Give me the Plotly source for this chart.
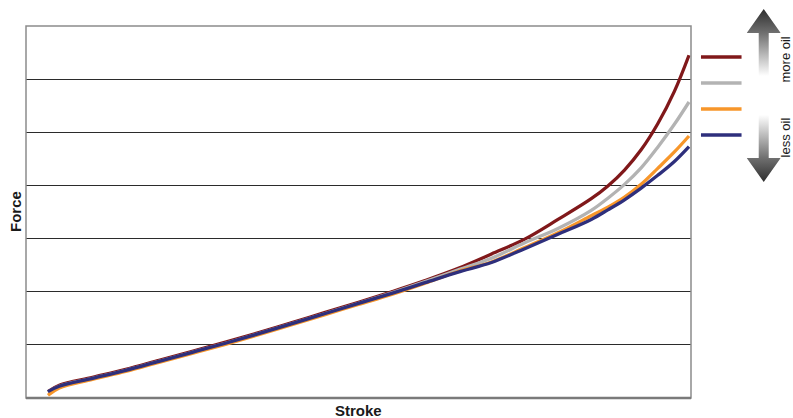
import base64
import plotly.graph_objects as go

# ---- data (force in gridline units) ----
stroke = [3.3, 5, 10, 15, 20, 25, 30, 35, 40, 45, 50, 55, 60, 65, 70, 75, 80, 85, 87.5, 90, 92.5, 95, 97.5, 99.7]
force_more_oil = [0.12, 0.24, 0.39, 0.54, 0.71, 0.88, 1.05, 1.23, 1.42, 1.61, 1.80, 2.00, 2.21, 2.44, 2.71, 2.99, 3.36, 3.75, 3.99, 4.29, 4.67, 5.16, 5.77, 6.45]
force_mid_oil = [0.11, 0.22, 0.37, 0.52, 0.69, 0.86, 1.03, 1.21, 1.40, 1.59, 1.78, 1.98, 2.19, 2.41, 2.63, 2.92, 3.19, 3.53, 3.76, 4.02, 4.33, 4.72, 5.15, 5.57]
force_less_oil = [0.05, 0.19, 0.35, 0.50, 0.67, 0.84, 1.01, 1.19, 1.38, 1.57, 1.76, 1.95, 2.16, 2.38, 2.56, 2.83, 3.11, 3.43, 3.59, 3.78, 4.02, 4.32, 4.63, 4.93]
force_least_oil = [0.12, 0.22, 0.37, 0.52, 0.69, 0.86, 1.03, 1.21, 1.40, 1.59, 1.78, 1.97, 2.17, 2.37, 2.55, 2.81, 3.08, 3.36, 3.54, 3.73, 3.95, 4.19, 4.45, 4.73]

series_names = ["more oil", "medium", "less", "least oil"]
series_values = [force_more_oil, force_mid_oil, force_less_oil, force_least_oil]
colors = ["#80181A", "#B3B3B3", "#F7962A", "#2E2F7C"]

fig = go.Figure()
for name, vals, col in zip(series_names, series_values, colors):
    fig.add_trace(go.Scatter(x=stroke, y=vals, mode="lines", name=name,
                             line=dict(color=col, width=3.3, shape="spline", smoothing=1.0),
                             showlegend=False, hoverinfo="skip"))

# legend line samples (paper coordinates)
leg_y = [0.917, 0.847, 0.777, 0.707]
for col, yy in zip(colors, leg_y):
    fig.add_shape(type="line", xref="paper", yref="paper", x0=1.015, x1=1.076, y0=yy, y1=yy,
                  line=dict(color=col, width=3.5))

# plot frame
fig.add_shape(type="rect", xref="paper", yref="paper", x0=0, x1=1, y0=0, y1=1,
              line=dict(color="#8c8c8c", width=1.5), layer="above")
fig.add_shape(type="line", xref="paper", yref="paper", x0=0, x1=1, y0=0, y1=0,
              line=dict(color="#7a7a7a", width=2.5), layer="above")


def arrow_svg(up=True):
    w, h = 34, 67
    if up:
        path = "M17,0 L34,24 L22,24 L22,67 L12,67 L12,24 L0,24 Z"
        stops = ('<stop offset="0" stop-color="#2e2e2e"/>'
                 '<stop offset="0.36" stop-color="#707070"/>'
                 '<stop offset="1" stop-color="#ffffff"/>')
    else:
        path = "M17,67 L34,43 L22,43 L22,0 L12,0 L12,43 L0,43 Z"
        stops = ('<stop offset="0" stop-color="#ffffff"/>'
                 '<stop offset="0.64" stop-color="#707070"/>'
                 '<stop offset="1" stop-color="#2e2e2e"/>')
    svg = (f'<svg xmlns="http://www.w3.org/2000/svg" width="{w}" height="{h}" viewBox="0 0 {w} {h}">'
           f'<defs><linearGradient id="g" x1="0" y1="0" x2="0" y2="1">{stops}</linearGradient></defs>'
           f'<path d="{path}" fill="url(#g)"/></svg>')
    return "data:image/svg+xml;base64," + base64.b64encode(svg.encode()).decode()


fig.add_layout_image(source=arrow_svg(True), xref="paper", yref="paper",
                     x=1.0838, y=1.0457, sizex=0.0511, sizey=0.180,
                     xanchor="left", yanchor="top", sizing="stretch", layer="above")
fig.add_layout_image(source=arrow_svg(False), xref="paper", yref="paper",
                     x=1.0838, y=0.7608, sizex=0.0511, sizey=0.180,
                     xanchor="left", yanchor="top", sizing="stretch", layer="above")

txt_font = dict(family="Liberation Sans, Arial, sans-serif", size=13, color="#1a1a1a")
fig.add_annotation(text="more oil", xref="paper", yref="paper", x=(785.5 - 26) / 665, y=0.9086,
                   textangle=-90, showarrow=False, font=txt_font, xanchor="center", yanchor="middle")
fig.add_annotation(text="less oil", xref="paper", yref="paper", x=(785.5 - 26) / 665, y=0.699,
                   textangle=-90, showarrow=False, font=txt_font, xanchor="center", yanchor="middle")

title_font = dict(family="Liberation Sans, Arial, sans-serif", size=15, color="#1a1a1a")
fig.add_annotation(text="<b>Force</b>", xref="paper", yref="paper", x=(15 - 26) / 665, y=(398 - 212) / 372,
                   textangle=-90, showarrow=False, font=title_font, xanchor="center", yanchor="middle")
fig.add_annotation(text="<b>Stroke</b>", xref="paper", yref="paper", x=(358 - 26) / 665, y=(398 - 410) / 372,
                   showarrow=False, font=title_font, xanchor="center", yanchor="middle")

fig.update_layout(
    width=793, height=418,
    margin=dict(l=26, r=102, t=26, b=20),
    paper_bgcolor="white", plot_bgcolor="white",
    xaxis=dict(range=[0, 100], showgrid=False, zeroline=False, showticklabels=False, ticks=""),
    yaxis=dict(range=[0, 7], dtick=1, showgrid=True, gridcolor="#2b2b2b", gridwidth=1,
               zeroline=False, showticklabels=False, ticks=""),
)

fig.write_html("out.html", config={"displayModeBar": False},
               post_script="document.body.style.margin='0';document.body.style.overflow='hidden';")
